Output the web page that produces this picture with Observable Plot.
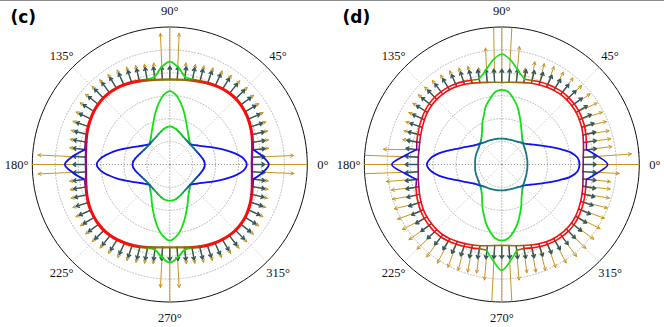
<!DOCTYPE html>
<html><head><meta charset="utf-8">
<script src="https://cdn.jsdelivr.net/npm/d3@7"></script>
<script src="https://cdn.jsdelivr.net/npm/@observablehq/plot@0.6"></script>
<style>
html,body{margin:0;padding:0;background:#fff;}
#wrap{position:relative;width:664px;height:327px;display:flex;overflow:hidden;}
#topline{position:absolute;left:0;top:0;width:664px;height:1px;background:#8c8c8c;z-index:2;}
#err{position:absolute;left:0;top:0;color:#c00;font:12px sans-serif;z-index:3;}
svg g.deglabels text{font-family:"Liberation Serif","DejaVu Serif",serif !important;}
svg g.paneltitle text{font-family:"DejaVu Sans",sans-serif !important;}
</style></head><body>
<div id="wrap"><div id="topline"></div><div id="err"></div></div>
<script>
// ---------- data (radii in grid-ring units; outer ring = 6) ----------
const ANGLES = [0,5,10,15,20,25,30,35,40,45,50,55,60,65,70,75,80,85,
  90,95,100,105,110,115,120,125,130,135,140,145,150,155,160,165,170,175,
  180,185,190,195,200,205,210,215,220,225,230,235,240,245,250,255,260,265,
  270,275,280,285,290,295,300,305,310,315,320,325,330,335,340,345,350,355];
const RING_TICKS = [1,2,3,4,5];
const OUTER_RING = 6;
const ANGLE_TICKS = [0,45,90,135,180,225,270,315];

// panel (c)
const RADIUS_R_C = [3.58,3.60,3.65,3.72,3.80,3.87,3.94,3.99,4.03,4.05,4.04,4.01,3.96,3.90,3.84,3.79,3.75,3.72,
 3.71,3.72,3.75,3.80,3.86,3.93,4.00,4.05,4.08,4.09,4.07,4.03,3.97,3.91,3.84,3.77,3.71,3.68,
 3.66,3.67,3.71,3.77,3.84,3.91,3.97,4.01,4.04,4.05,4.03,3.99,3.93,3.87,3.80,3.73,3.67,3.63,
 3.62,3.63,3.67,3.73,3.80,3.87,3.93,3.98,4.02,4.04,4.03,4.00,3.94,3.87,3.79,3.71,3.64,3.60];
const RADIUS_L_C = [4.32,4.06,3.70,3.76,3.84,3.91,3.98,4.03,4.07,4.09,4.08,4.05,4.00,3.94,3.88,3.84,3.88,4.25,
 4.49,4.25,3.88,3.84,3.90,3.97,4.04,4.09,4.12,4.13,4.11,4.07,4.01,3.95,3.88,3.81,3.76,4.23,
 4.58,4.23,3.77,3.81,3.88,3.95,4.01,4.05,4.08,4.09,4.07,4.03,3.97,3.91,3.84,3.77,3.77,4.06,
 4.28,4.06,3.77,3.77,3.84,3.91,3.97,4.02,4.06,4.08,4.07,4.04,3.98,3.91,3.83,3.75,3.70,4.06];
const RADIUS_B_C = [3.36,3.21,2.86,2.47,2.12,1.83,1.61,1.45,1.33,1.25,1.26,1.28,1.31,1.35,1.42,1.49,1.57,1.63,
 1.66,1.63,1.57,1.49,1.42,1.35,1.31,1.28,1.26,1.25,1.33,1.44,1.59,1.79,2.05,2.38,2.71,3.03,
 3.19,3.03,2.71,2.38,2.05,1.79,1.59,1.44,1.33,1.25,1.26,1.28,1.31,1.35,1.41,1.47,1.54,1.57,
 1.58,1.57,1.54,1.47,1.41,1.35,1.31,1.28,1.26,1.25,1.33,1.45,1.61,1.83,2.12,2.47,2.86,3.21];
const RADIUS_G_C = [1.53,1.51,1.46,1.40,1.35,1.31,1.28,1.26,1.25,1.25,1.33,1.44,1.59,1.79,2.05,2.38,2.73,3.05,
 3.20,3.05,2.73,2.38,2.05,1.79,1.59,1.44,1.33,1.25,1.25,1.26,1.29,1.33,1.38,1.45,1.53,1.60,
 1.63,1.60,1.53,1.45,1.38,1.33,1.29,1.26,1.25,1.25,1.35,1.46,1.61,1.85,2.14,2.49,2.86,3.16,
 3.32,3.16,2.86,2.49,2.14,1.85,1.61,1.46,1.35,1.25,1.25,1.26,1.28,1.31,1.35,1.40,1.46,1.51];
// polarisation mix: outer curves (-1 blue .. 0 red .. +1 green), inner curves (0 blue .. 1 green)
const POL_R = [-0.5,-0.5,-0.45,-0.3,-0.15,-0.05,0,0,0,0,0,0,0,0.05,0.15,0.3,0.45,0.5,
 0.5,0.5,0.45,0.3,0.15,0.05,0,0,0,0,0,0,0,-0.05,-0.15,-0.3,-0.45,-0.5,
 -0.5,-0.5,-0.45,-0.3,-0.15,-0.05,0,0,0,0,0,0,0,0.05,0.15,0.3,0.45,0.5,
 0.5,0.5,0.45,0.3,0.15,0.05,0,0,0,0,0,0,0,-0.05,-0.15,-0.3,-0.45,-0.5];
const POL_L_C = [-1,-1,-1,0,0,0,0,0,0,0,0,0,0,0,0,1,1,1,
 1,1,1,1,0,0,0,0,0,0,0,0,0,0,0,0,-1,-1,
 -1,-1,-1,0,0,0,0,0,0,0,0,0,0,0,0,1,1,1,
 1,1,1,1,0,0,0,0,0,0,0,0,0,0,0,0,-1,-1];
const POL_B_C = [0,0,0,0,0,0,0,0,0.1,0.3,0.45,0.55,0.65,0.75,0.85,0.9,0.95,1,
 1,1,0.95,0.9,0.85,0.75,0.65,0.55,0.45,0.3,0.1,0,0,0,0,0,0,0,
 0,0,0,0,0,0,0,0,0.1,0.3,0.45,0.55,0.65,0.75,0.85,0.9,0.95,1,
 1,1,0.95,0.9,0.85,0.75,0.65,0.55,0.45,0.3,0.1,0,0,0,0,0,0,0];
const POL_G_C = [0,0,0.05,0.1,0.15,0.25,0.35,0.45,0.55,0.7,0.9,1,1,1,1,1,1,1,
 1,1,1,1,1,1,1,1,0.9,0.7,0.55,0.45,0.35,0.25,0.15,0.1,0.05,0,
 0,0,0.05,0.1,0.15,0.25,0.35,0.45,0.55,0.7,0.9,1,1,1,1,1,1,1,
 1,1,1,1,1,1,1,1,0.9,0.7,0.55,0.45,0.35,0.25,0.15,0.1,0.05,0];
// arrows: deviation from the radial direction (deg) and length (ring units)
const DARK_DEV = [0,-2,-4,-6,-7,-7,-6,-4,-3,-1,1,3,5,6,6,4,3,1,
 0,-1,-3,-5,-6,-7,-6,-4,-3,-1,1,3,5,6,6,5,3,1,
 0,-1,-3,-5,-7,-7,-6,-4,-3,-1,1,3,5,6,6,4,3,1,
 0,-1,-3,-5,-6,-7,-6,-4,-3,-1,1,3,5,6,6,5,3,1];
const DARK_LEN = 0.57;
const ORANGE_DEV_C = [0,-2.5,-4,-6,-7,-7,-6,-4,-3,-1,1,3,5,6,6,4,6,2.6,
 0,-2.6,-6,-5,-6,-7,-6,-4,-3,-1,1,3,5,6,6,5,3,2.5,
 0,-2.5,-3,-5,-7,-7,-6,-4,-3,-1,1,3,5,6,6,4,3,2,
 0,-2,-3,-5,-6,-7,-6,-4,-3,-1,1,3,5,6,6,5,3,2.5];
const ORANGE_LEN_C = [3.2,1.82,0.72,0.72,0.72,0.72,0.72,0.72,0.72,0.72,0.72,0.72,0.72,0.72,0.72,0.72,0.74,2.02,
 3.2,2.02,0.74,0.72,0.72,0.72,0.72,0.72,0.72,0.72,0.72,0.72,0.72,0.72,0.72,0.72,0.72,2.09,
 3.2,2.09,0.72,0.72,0.72,0.72,0.72,0.72,0.72,0.72,0.72,0.72,0.72,0.72,0.72,0.72,0.72,1.75,
 3.2,1.75,0.72,0.72,0.72,0.72,0.72,0.72,0.72,0.72,0.72,0.72,0.72,0.72,0.72,0.72,0.72,1.83];

// panel (d)
const RADIUS_R_D = [3.55,3.57,3.62,3.69,3.77,3.85,3.91,3.96,3.99,4.00,3.99,3.95,3.90,3.84,3.77,3.70,3.64,3.60,
 3.58,3.60,3.64,3.70,3.78,3.86,3.93,3.98,4.01,4.02,4.00,3.96,3.90,3.83,3.77,3.71,3.67,3.66,
 3.65,3.66,3.70,3.75,3.82,3.89,3.95,3.99,4.01,4.02,4.00,3.95,3.88,3.81,3.74,3.67,3.60,3.55,
 3.53,3.55,3.60,3.66,3.74,3.82,3.89,3.94,3.97,3.98,3.97,3.93,3.87,3.80,3.73,3.66,3.60,3.56];
const RADIUS_L_D = [4.62,4.19,3.75,3.82,3.90,3.98,4.04,4.09,4.12,4.13,4.12,4.08,4.03,3.97,3.90,3.85,4.14,4.56,
 4.82,4.56,4.14,3.85,3.91,3.99,4.06,4.11,4.14,4.15,4.13,4.09,4.03,3.96,3.90,3.84,3.77,4.28,
 4.80,4.28,3.78,3.88,3.95,4.02,4.08,4.12,4.14,4.15,4.13,4.08,4.01,3.94,3.87,3.80,3.80,4.23,
 4.62,4.23,3.80,3.79,3.87,3.95,4.02,4.07,4.10,4.11,4.10,4.06,4.00,3.93,3.86,3.79,3.75,4.19];
const RADIUS_B_D = [3.39,3.32,3.05,2.62,2.25,1.94,1.72,1.53,1.40,1.31,1.26,1.21,1.18,1.16,1.14,1.13,1.13,1.13,
 1.13,1.13,1.14,1.15,1.16,1.17,1.19,1.21,1.25,1.30,1.37,1.46,1.60,1.79,2.03,2.38,2.79,3.12,
 3.27,3.12,2.79,2.38,2.03,1.79,1.60,1.46,1.37,1.30,1.25,1.21,1.19,1.17,1.16,1.15,1.14,1.13,
 1.13,1.13,1.13,1.13,1.14,1.16,1.18,1.21,1.26,1.31,1.40,1.53,1.72,1.94,2.25,2.62,3.05,3.32];
const RADIUS_G_D = [1.12,1.12,1.13,1.13,1.15,1.17,1.19,1.22,1.26,1.31,1.40,1.53,1.72,1.96,2.27,2.62,2.92,3.19,
 3.26,3.19,2.92,2.66,2.29,2.01,1.72,1.53,1.40,1.33,1.28,1.24,1.22,1.21,1.20,1.19,1.18,1.17,
 1.16,1.17,1.18,1.19,1.20,1.21,1.22,1.24,1.28,1.33,1.40,1.53,1.72,2.01,2.31,2.66,2.97,3.23,
 3.32,3.23,2.97,2.66,2.31,2.01,1.72,1.53,1.40,1.31,1.26,1.22,1.19,1.17,1.15,1.13,1.13,1.12];
const POL_L_D = [-1,-1,-1,0,0,0,0,0,0,0,0,0,0,0,0,1,1,1,
 1,1,1,1,0,0,0,0,0,0,0,0,0,0,0,0,-1,-1,
 -1,-1,-1,0,0,0,0,0,0,0,0,0,0,0,0,0,1,1,
 1,1,1,0,0,0,0,0,0,0,0,0,0,0,0,0,-1,-1];
const POL_B_D = [0,0,0,0,0,0,0,0,0.15,0.35,0.45,0.5,0.5,0.5,0.5,0.5,0.5,0.5,
 0.5,0.5,0.5,0.5,0.5,0.5,0.5,0.5,0.45,0.35,0.15,0,0,0,0,0,0,0,
 0,0,0,0,0,0,0,0,0.15,0.35,0.45,0.5,0.5,0.5,0.5,0.5,0.5,0.5,
 0.5,0.5,0.5,0.5,0.5,0.5,0.5,0.5,0.45,0.35,0.15,0,0,0,0,0,0,0];
const POL_G_D = [0.5,0.5,0.5,0.5,0.5,0.5,0.5,0.5,0.55,0.65,0.85,1,1,1,1,1,1,1,
 1,1,1,1,1,1,1,1,0.85,0.65,0.55,0.5,0.5,0.5,0.5,0.5,0.5,0.5,
 0.5,0.5,0.5,0.5,0.5,0.5,0.5,0.5,0.55,0.65,0.85,1,1,1,1,1,1,1,
 1,1,1,1,1,1,1,1,0.85,0.65,0.55,0.5,0.5,0.5,0.5,0.5,0.5,0.5];
const ORANGE_DEV_D = [0,-1,-3,-7,-11,-12,-12,-11,-7,-2,3,7,10,11,11,9,5,2,
 0,-4,-7,-10,-6,-7,-6,-4,-3,-1,1,3,5,6,6,5,9,3,
 0,-3,-6,-8,-10,-11,-10,-8,-4,0,4,8,10,11,10,8,5,2,
 0,-2,-5,-8,-10,-11,-10,-8,-4,0,4,8,10,11,11,9,4,2];
const ORANGE_LEN_D = [3.2,2.1,1.25,1.2,1.15,1.1,1.05,1.0,0.95,0.9,0.9,0.9,0.95,0.95,0.95,0.63,1.57,3.2,
 3.2,3.2,1.5,0.65,0.75,0.75,0.75,0.75,0.75,0.75,0.75,0.75,0.75,0.75,0.75,0.75,1.55,3.2,
 3.2,3.2,1.4,1.2,1.2,1.2,1.2,1.2,1.2,1.2,1.2,1.2,1.2,1.2,1.2,1.2,1.5,3.2,
 3.2,3.2,1.5,1.2,1.2,1.2,1.2,1.2,1.2,1.2,1.2,1.2,1.2,1.2,1.2,1.2,1.2,1.58];

// ---------- styling ----------
const W = 332, H = 327, CX = 169.3, CY = 164, PX = 137.5 / 6;
const RED = "#ff0a0a", BLUE = "#1010f5", GREEN = "#12e012";
const DARK = "#34585b", ORANGE = "#c9951f";
const outerColor = p => p < 0 ? d3.interpolateRgb(RED, BLUE)(-p) : d3.interpolateRgb(RED, GREEN)(p);
const innerColor = q => d3.interpolateRgb(BLUE, GREEN)(q);

const checks = {RADIUS_R_C,RADIUS_L_C,RADIUS_B_C,RADIUS_G_C,POL_R,POL_L_C,POL_B_C,POL_G_C,DARK_DEV,ORANGE_DEV_C,ORANGE_LEN_C,
  RADIUS_R_D,RADIUS_L_D,RADIUS_B_D,RADIUS_G_D,POL_L_D,POL_B_D,POL_G_D,ORANGE_DEV_D,ORANGE_LEN_D};
const bad = Object.entries(checks).filter(([k,v]) => v.length !== ANGLES.length).map(([k,v]) => k + ":" + v.length);
if (bad.length) document.getElementById("err").textContent = "length mismatch " + bad.join(", ");

const RAD = Math.PI / 180;
const px = (r, a) => r * Math.cos(a * RAD);
const py = (r, a) => r * Math.sin(a * RAD);

function curvePieces(key, radius, pol, colorFn) {
  const n = ANGLES.length;
  const pts = ANGLES.map((a, i) => [px(radius[i], a), py(radius[i], a)]);
  const seg = ANGLES.map((_, i) => colorFn((pol[i] + pol[(i + 1) % n]) / 2));
  const start = seg.findIndex((c, i) => c !== seg[(i - 1 + n) % n]);
  const rows = [];
  if (start < 0) {
    for (let i = 0; i <= n; i++) rows.push({x: pts[i % n][0], y: pts[i % n][1], z: key, color: seg[0]});
    return rows;
  }
  let g = -1;
  for (let k = 0; k < n; k++) {
    const s = (start + k) % n;
    if (k === 0 || seg[s] !== seg[(s - 1 + n) % n]) {
      g++;
      rows.push({x: pts[s][0], y: pts[s][1], z: key + g, color: seg[s]});
    }
    const e = (s + 1) % n;
    rows.push({x: pts[e][0], y: pts[e][1], z: key + g, color: seg[s]});
  }
  return rows;
}

function arrowRows(radius, dev, len) {
  return ANGLES.map((a, i) => {
    const x1 = px(radius[i], a), y1 = py(radius[i], a);
    const L = Array.isArray(len) ? len[i] : len;
    const d = a + dev[i];
    return {x1, y1, x2: x1 + px(L, d), y2: y1 + py(L, d)};
  });
}

const ringRows = RING_TICKS.concat([OUTER_RING]).flatMap(r => ANGLES.map(a => ({ring: r, x: px(r, a), y: py(r, a)})));

function panel(cfg) {
  const lineOpts = (w) => ({x: "x", y: "y", z: "z", stroke: "color", strokeWidth: w, curve: "catmull-rom",
    strokeLinecap: "round", strokeLinejoin: "round"});
  const svg = Plot.plot({
    width: W, height: H, margin: 0,
    x: {domain: [-CX / PX, (W - CX) / PX], axis: null},
    y: {domain: [-(H - CY) / PX, CY / PX], axis: null},
    color: {type: "identity"},
    style: {background: "transparent", overflow: "visible"},
    marks: [
      Plot.line(ringRows.filter(d => d.ring !== OUTER_RING), {x: "x", y: "y", z: "ring", curve: "catmull-rom-closed",
        stroke: "#aaaaaa", strokeWidth: 0.8, strokeDasharray: "1,2"}),
      Plot.link(ANGLE_TICKS, {x1: 0, y1: 0, x2: a => px(OUTER_RING, a), y2: a => py(OUTER_RING, a),
        stroke: a => a % 90 === 0 ? "#666666" : "#aaaaaa", strokeWidth: 0.8, strokeDasharray: "1,2"}),
      Plot.line(ringRows.filter(d => d.ring === OUTER_RING), {x: "x", y: "y", curve: "catmull-rom-closed",
        stroke: "#111", strokeWidth: 1}),
      Plot.arrow(arrowRows(cfg.R, cfg.oDev, cfg.oLen), {x1: "x1", y1: "y1", x2: "x2", y2: "y2",
        stroke: ORANGE, strokeWidth: 1.0, headLength: 5, headAngle: 55}),
      Plot.arrow(arrowRows(cfg.R, DARK_DEV, DARK_LEN), {x1: "x1", y1: "y1", x2: "x2", y2: "y2",
        stroke: DARK, strokeWidth: 1.4, headLength: 3.6, headAngle: 65}),
      Plot.line(curvePieces("L", cfg.L, cfg.polL, outerColor), lineOpts(cfg.lWidth)),
      Plot.line(curvePieces("R", cfg.R, POL_R, outerColor), lineOpts(cfg.rWidth)),
      Plot.line(curvePieces("G", cfg.G, cfg.polG, innerColor), lineOpts(1.8)),
      Plot.line(curvePieces("B", cfg.B, cfg.polB, innerColor), lineOpts(1.8)),
      Plot.text(ANGLE_TICKS, {x: a => px(6.68, a), y: a => py(6.68, a), text: a => `${a}°`,
        fontSize: 12.5, fill: "#111", className: "deglabels"}),
      Plot.text([cfg.title], {frameAnchor: "top-left", dx: 10, dy: 10, text: d => d, textAnchor: "start",
        lineAnchor: "top", fontSize: 17, fontWeight: "bold", fill: "#000", className: "paneltitle"})
    ]
  });
  const s = d3.select(svg);
  const tg = s.selectAll('g[aria-label="text"]').nodes();
  if (tg[0]) { d3.select(tg[0]).classed("deglabels", true).selectAll("text")
      .attr("font-family", "Liberation Serif").style("font-family", "'Liberation Serif', 'DejaVu Serif', serif"); }
  if (tg[1]) { d3.select(tg[1]).classed("paneltitle", true).selectAll("text")
      .attr("font-family", "DejaVu Sans").style("font-family", "'DejaVu Sans', sans-serif"); }
  // clip the long golden arrows to the outer circle
  const xs = svg.scale("x"), ys = svg.scale("y");
  const cx = xs.apply(0), cy = ys.apply(0), r = xs.apply(OUTER_RING) - cx;
  const id = "clip-" + cfg.key;
  s.insert("defs", ":first-child").append("clipPath").attr("id", id)
    .append("circle").attr("cx", cx).attr("cy", cy).attr("r", r);
  s.select('g[aria-label="arrow"]').attr("clip-path", `url(#${id})`);
  return svg;
}

const wrap = document.getElementById("wrap");
wrap.appendChild(panel({key: "c", title: "(c)", R: RADIUS_R_C, L: RADIUS_L_C, B: RADIUS_B_C, G: RADIUS_G_C,
  polL: POL_L_C, polB: POL_B_C, polG: POL_G_C, oDev: ORANGE_DEV_C, oLen: ORANGE_LEN_C, rWidth: 2.3, lWidth: 1.9}));
wrap.appendChild(panel({key: "d", title: "(d)", R: RADIUS_R_D, L: RADIUS_L_D, B: RADIUS_B_D, G: RADIUS_G_D,
  polL: POL_L_D, polB: POL_B_D, polG: POL_G_D, oDev: ORANGE_DEV_D, oLen: ORANGE_LEN_D, rWidth: 1.6, lWidth: 1.6}));
</script>
</body></html>
